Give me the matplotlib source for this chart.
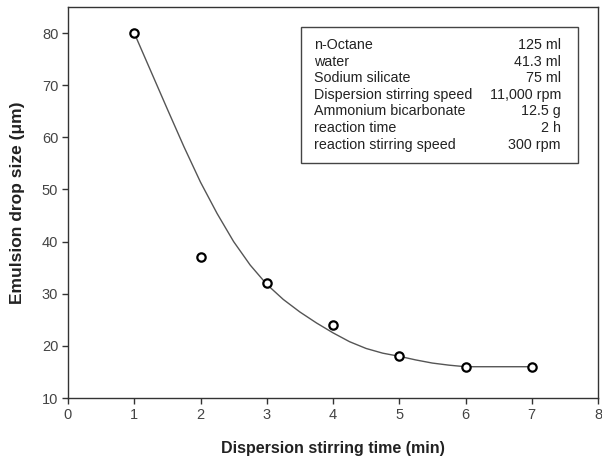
import numpy as np
import matplotlib.pyplot as plt

plt.rcParams['font.family'] = ['Liberation Sans', 'DejaVu Sans']

# Данни (измерени точки)
stir_time = [1, 2, 3, 4, 5, 6, 7]
drop_size = [80, 37, 32, 24, 18, 16, 16]

# Крива (отчетена от графиката)
curve_x = [1.0, 1.25, 1.5, 1.75, 2.0, 2.25, 2.5, 2.75, 3.0, 3.25, 3.5, 3.75,
           4.0, 4.25, 4.5, 4.75, 5.0, 5.25, 5.5, 5.75, 6.0, 7.0]
curve_y = [80.0, 72.7, 65.4, 58.2, 51.4, 45.4, 40.0, 35.5, 31.8, 28.9, 26.5, 24.4,
           22.5, 20.8, 19.5, 18.6, 18.0, 17.3, 16.7, 16.3, 16.0, 16.0]

# Условия
cond_names = ["n-Octane", "water", "Sodium silicate", "Dispersion stirring speed",
              "Ammonium bicarbonate", "reaction time", "reaction stirring speed"]
cond_values = ["125 ml", "41.3 ml", "75 ml", "11,000 rpm", "12.5 g", "2 h", "300 rpm"]

fig = plt.figure(figsize=(6.02, 4.66), dpi=100)
ax = fig.add_axes([68/602, 68/466, 530/602, 391/466])

ax.plot(curve_x, curve_y, color='#555555', lw=1.0, zorder=2)
ax.plot(stir_time, drop_size, 'o', ms=6, mfc='white', mec='black', mew=1.6, zorder=3)

ax.set_xlim(0, 8)
ax.set_ylim(10, 85)
ax.set_xticks(range(0, 9))
ax.set_yticks(range(10, 81, 10))
for s in ax.spines.values():
    s.set_color('#333333')
    s.set_linewidth(1.0)
ax.tick_params(direction='out', length=4, width=1, color='#333333',
               labelsize=10.5, labelcolor='#444444', pad=3)

ax.set_xlabel("Dispersion stirring time (min)", fontsize=11.5, fontweight='bold',
              color='#222222', labelpad=14)
ax.set_ylabel("Emulsion drop size (μm)", fontsize=12.5, fontweight='bold',
              color='#222222', labelpad=12)

# Кутия с условия
box = plt.Rectangle((301/602, (466-163)/466), 277/602, 136/466, transform=fig.transFigure,
                    fill=False, ec='#444444', lw=1.0)
fig.patches.append(box)
for i, (n, v) in enumerate(zip(cond_names, cond_values)):
    yy = (466 - 45 - i*16.6)/466
    fig.text(314/602, yy, n, fontsize=10.3, color='#222222', va='center', ha='left')
    fig.text(561/602, yy, v, fontsize=10.3, color='#222222', va='center', ha='right')

fig.savefig("out.png", dpi=100)
